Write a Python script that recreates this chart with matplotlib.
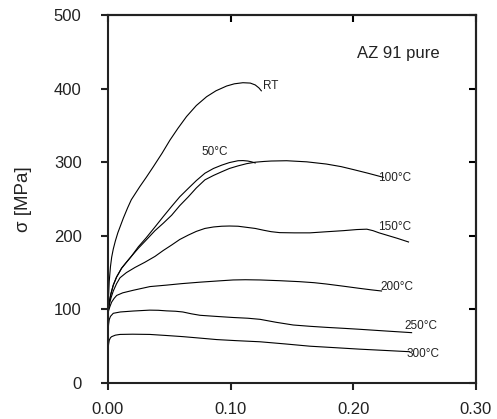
import matplotlib
matplotlib.use("Agg")
import matplotlib.pyplot as plt

plt.rcParams['font.family'] = ['Liberation Sans', 'DejaVu Sans']

# strain values and stress [MPa] per test temperature
rt_x = [0.0, 0.0005, 0.001, 0.002, 0.003, 0.0043, 0.006, 0.008, 0.0098, 0.0125, 0.016, 0.019, 0.026, 0.031,
        0.037, 0.044, 0.0505, 0.057, 0.064, 0.072, 0.0804, 0.088, 0.0967, 0.103, 0.110, 0.116, 0.120, 0.123, 0.125]
rt_y = [95, 120, 138, 158, 171, 182, 193, 204, 212, 224, 238, 249, 267, 279,
        294, 312, 330, 346, 362, 377, 389, 397, 403.5, 406.5, 408, 407.5, 405, 401, 397]

t50_x = [0.0, 0.001, 0.0025, 0.0043, 0.007, 0.0111, 0.015, 0.019, 0.0247, 0.031, 0.0383, 0.045, 0.0519, 0.0585,
         0.0655, 0.072, 0.079, 0.086, 0.0927, 0.099, 0.106, 0.110, 0.114, 0.117, 0.120]
t50_y = [95, 110, 122, 133, 144, 156, 164, 172, 185, 197, 212, 226, 240, 253,
         264.5, 275, 285, 291.5, 296, 299.5, 302, 302.2, 301.6, 300.5, 299]

t100_x = [0.0, 0.001, 0.0025, 0.0043, 0.007, 0.0111, 0.015, 0.019, 0.0247, 0.031, 0.0383, 0.045, 0.0519, 0.0585,
          0.0655, 0.072, 0.079, 0.086, 0.0927, 0.099, 0.106, 0.113, 0.120, 0.127, 0.133, 0.1456, 0.162, 0.178,
          0.190, 0.200, 0.212, 0.2244]
t100_y = [95, 110, 122, 133, 144, 156, 164, 172, 183, 194, 207, 217, 228, 241,
          253, 265, 276, 282, 287, 291.5, 295, 298, 300, 301, 301.6, 302, 300.5, 297.5,
          294, 290, 285, 279.5]

t150_x = [0.0, 0.001, 0.0025, 0.0043, 0.007, 0.0098, 0.015, 0.022, 0.030, 0.0383, 0.045, 0.0519, 0.0585, 0.0655,
          0.072, 0.079, 0.086, 0.0927, 0.099, 0.106, 0.113, 0.120, 0.127, 0.133, 0.140, 0.152, 0.1646, 0.178,
          0.192, 0.203, 0.211, 0.216, 0.221, 0.227, 0.236, 0.245]
t150_y = [95, 106, 116, 125, 135, 143, 150, 157, 164, 172, 180, 187.5, 195, 201,
          206, 210, 212, 213, 213.3, 213, 211.5, 210, 207.5, 205.6, 204.3, 204, 204, 205.5,
          207, 208.5, 209, 207, 204, 201, 196.5, 191.6]

t200_x = [0.0, 0.0008, 0.0016, 0.003, 0.005, 0.0071, 0.012, 0.0206, 0.0342, 0.0478, 0.060, 0.075, 0.090, 0.102,
          0.112, 0.124, 0.140, 0.156, 0.168, 0.178, 0.192, 0.205, 0.215, 0.223]
t200_y = [95, 100, 104, 110, 115, 119, 122.5, 126, 131, 133, 135, 137, 138.7, 140,
          140.3, 140, 139, 137.7, 136.3, 134.5, 131.5, 128.6, 126.5, 125]

t250_x = [0.0, 0.0005, 0.001, 0.002, 0.0043, 0.010, 0.0206, 0.034, 0.041, 0.0478, 0.055, 0.061, 0.068, 0.075,
          0.088, 0.102, 0.114, 0.124, 0.137, 0.151, 0.165, 0.178, 0.192, 0.205, 0.225, 0.2475]
t250_y = [70, 80, 86, 90.5, 94.7, 96.5, 97.8, 99, 98.8, 98, 97.5, 96.5, 94, 92,
          90.5, 89, 88, 86.5, 82.5, 78.8, 77, 75.6, 74.3, 73, 70.8, 68.4]

t300_x = [0.0, 0.0005, 0.001, 0.002, 0.003, 0.006, 0.0098, 0.020, 0.034, 0.048, 0.061, 0.075, 0.0886, 0.105,
          0.124, 0.145, 0.1646, 0.185, 0.205, 0.225, 0.246]
t300_y = [45, 53, 58, 61.5, 63, 65, 66, 66.3, 66, 64.5, 63, 61, 59, 57.5,
          56, 53, 50, 48, 46, 44.3, 42.5]

labels = ['RT', '50°C', '100°C', '150°C', '200°C', '250°C', '300°C']
label_x = [0.1265, 0.0765, 0.2200, 0.2205, 0.2220, 0.2420, 0.2435]
label_y = [403, 314, 279, 212, 131, 78, 39]

x_ticks = [0.0, 0.1, 0.2, 0.3]
x_tick_labels = ['0.00', '0.10', '0.20', '0.30']
y_ticks = [0, 100, 200, 300, 400, 500]

fig = plt.figure(figsize=(4.97, 4.19), dpi=100)
ax = fig.add_axes([108/497, 1-383/419, 368/497, 368/419])

series = [(rt_x, rt_y), (t50_x, t50_y), (t100_x, t100_y), (t150_x, t150_y),
          (t200_x, t200_y), (t250_x, t250_y), (t300_x, t300_y)]
for xs, ys in series:
    ax.plot(xs, ys, color='black', lw=0.8, solid_joinstyle='round')

for lab, lx, ly in zip(labels, label_x, label_y):
    ax.text(lx, ly, lab, fontsize=8.5, color='#222222', va='center', ha='left')

ax.text(0.203, 448, 'AZ 91 pure', fontsize=12, color='#222222', va='center', ha='left')

ax.set_xlim(0, 0.3)
ax.set_ylim(0, 500)
ax.set_xticks(x_ticks)
ax.set_xticklabels(x_tick_labels)
ax.set_yticks(y_ticks)
ax.tick_params(axis='both', which='both', direction='out', length=5, width=1.5,
               labelsize=12, colors='#222222')
ax.tick_params(axis='y', pad=14)
ax.tick_params(axis='x', pad=9)

# inward ticks on top and right
axt = ax.secondary_xaxis('top')
axt.set_xticks(x_ticks)
axt.tick_params(direction='in', length=5, width=1.5, labeltop=False)
axr = ax.secondary_yaxis('right')
axr.set_yticks(y_ticks)
axr.tick_params(direction='in', length=5, width=1.5, labelright=False)
for a in (ax, axt, axr):
    for s in a.spines.values():
        s.set_linewidth(1.5)
        s.set_color('#222222')

ax.set_ylabel('σ [MPa]', fontsize=13.5, color='#222222', labelpad=16)

fig.savefig('out.png', dpi=100)
